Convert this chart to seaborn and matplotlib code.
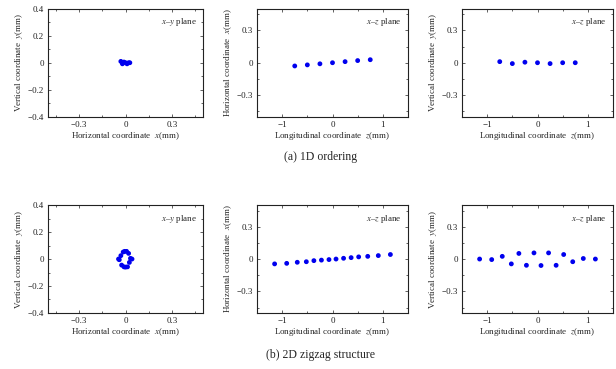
import numpy as np
import pandas as pd
import matplotlib
matplotlib.use("Agg")
import matplotlib.pyplot as plt
from matplotlib.ticker import MultipleLocator, FixedLocator
import seaborn as sns

sns.set_theme(style="ticks")
plt.rcParams['font.family'] = ['Liberation Serif', 'DejaVu Serif']
plt.rcParams['mathtext.fontset'] = 'stix'

# (a) 1D ordering: 7 ions
z_1d = [-0.75, -0.5, -0.25, 0.0, 0.25, 0.5, 0.75]
x_1d = [-0.03, -0.02, -0.01, 0.0, 0.01, 0.02, 0.028]
y_1d = [0.01, -0.008, 0.005, 0.0, -0.008, 0.0, 0.0]

# (b) 2D zigzag: 14 ions
z_2d = [-1.15, -0.91, -0.70, -0.52, -0.37, -0.22, -0.07,
        0.07, 0.22, 0.37, 0.52, 0.70, 0.91, 1.15]
x_2d = [-0.045, -0.04, -0.03, -0.025, -0.015, -0.01, -0.005,
        0.0, 0.007, 0.013, 0.02, 0.025, 0.032, 0.042]
y_2d = [0.0, -0.005, 0.025, -0.045, 0.052, -0.058, 0.057,
        -0.06, 0.057, -0.058, 0.042, -0.025, 0.005, 0.0]

df_1d = pd.DataFrame({'z': z_1d, 'x': x_1d, 'y': y_1d})
df_2d = pd.DataFrame({'z': z_2d, 'x': x_2d, 'y': y_2d})

fig = plt.figure(figsize=(6.16, 3.69), dpi=100)

cols = [48 / 616, 257 / 616, 462 / 616]
widths = [155 / 616, 151 / 616, 151 / 616]
rows = [0.684, 0.152]
height = 0.292

lab_h = r'Horizontal coordinate  $x$(mm)'
lab_v = r'Vertical coordinate  $y$(mm)'
lab_l = r'Longitudinal coordinate  $z$(mm)'


def style_axes(ax):
    ax.tick_params(direction='in', which='both', top=True, right=True,
                   labelsize=6.5, length=2.5, width=0.5, pad=3, colors='#222222')
    ax.tick_params(which='minor', length=1.5)
    for s in ax.spines.values():
        s.set_linewidth(0.8)
        s.set_color('#222222')


for r, df in enumerate([df_1d, df_2d]):
    # x-y plane
    ax = fig.add_axes([cols[0], rows[r], widths[0], height])
    sns.scatterplot(data=df, x='x', y='y', ax=ax, color='#0000ee', s=12,
                    edgecolor='none', legend=False)
    ax.set_xlim(-0.5, 0.5)
    ax.set_ylim(-0.4, 0.4)
    ax.xaxis.set_major_locator(FixedLocator([-0.3, 0, 0.3]))
    ax.xaxis.set_minor_locator(FixedLocator([-0.45, -0.15, 0.15, 0.45]))
    ax.yaxis.set_major_locator(FixedLocator([-0.4, -0.2, 0, 0.2, 0.4]))
    ax.yaxis.set_minor_locator(FixedLocator([-0.3, -0.1, 0.1, 0.3]))
    ax.set_xticklabels(['\u22120.3', '0', '0.3'])
    ax.set_yticklabels(['\u22120.4', '\u22120.2', '0', '0.2', '0.4'])
    ax.set_xlabel(lab_h, fontsize=6.5, labelpad=1)
    ax.set_ylabel(lab_v, fontsize=6.5, labelpad=2)
    ax.text(0.96, 0.93, '$x$\u2013$y$ plane',
            transform=ax.transAxes, ha='right', va='top', fontsize=6.5)
    style_axes(ax)

    # x-z plane and y-z plane
    for c, col, ylab in [(1, 'x', lab_h), (2, 'y', lab_v)]:
        ax = fig.add_axes([cols[c], rows[r], widths[c], height])
        sns.scatterplot(data=df, x='z', y=col, ax=ax, color='#0000ee', s=12,
                        edgecolor='none', legend=False)
        ax.set_xlim(-1.5, 1.5)
        ax.set_ylim(-0.5, 0.5)
        ax.xaxis.set_major_locator(FixedLocator([-1, 0, 1]))
        ax.xaxis.set_minor_locator(FixedLocator([-0.5, 0.5]))
        ax.yaxis.set_major_locator(FixedLocator([-0.3, 0, 0.3]))
        ax.yaxis.set_minor_locator(FixedLocator([-0.45, -0.15, 0.15, 0.45]))
        ax.set_xticklabels(['\u22121', '0', '1'])
        ax.set_yticklabels(['\u22120.3', '0', '0.3'])
        ax.set_xlabel(lab_l, fontsize=6.5, labelpad=1)
        ax.set_ylabel(ylab, fontsize=6.5, labelpad=2)
        ax.text(0.96, 0.93, '$x$\u2013$z$ plane',
                transform=ax.transAxes, ha='right', va='top', fontsize=6.5)
        style_axes(ax)

fig.text(0.52, 1 - 157 / 369, '(a) 1D ordering', ha='center', va='center',
         fontsize=8.5)
fig.text(0.52, 1 - 355 / 369, '(b) 2D zigzag structure', ha='center',
         va='center', fontsize=8.5)

fig.savefig('out.png', dpi=100)
